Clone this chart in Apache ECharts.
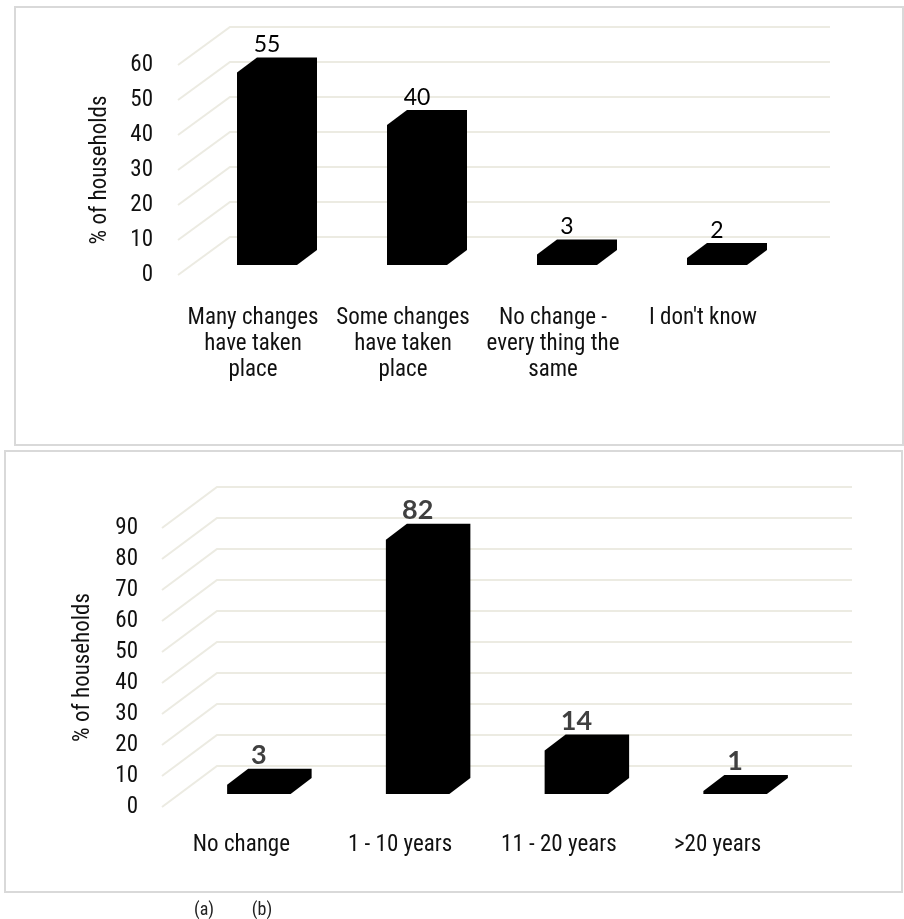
<!DOCTYPE html>
<html>
<head>
<meta charset="utf-8">
<script src="https://cdn.jsdelivr.net/npm/echarts@6/dist/echarts.min.js"></script>
<style>
  html, body { margin: 0; padding: 0; background: #ffffff; }
  #chart { width: 904px; height: 919px; }
</style>
</head>
<body>
<div id="chart"></div>
<script>
// (a) perceived change in the area
const changeCategories = [
  'Many changes\nhave taken\nplace',
  'Some changes\nhave taken\nplace',
  'No change -\nevery thing the\nsame',
  "I don't know"
];
const changeValues = [55, 40, 3, 2];
const changeTicks = [0, 10, 20, 30, 40, 50, 60];

// (b) period over which the change happened
const periodCategories = ['No change', '1 - 10 years', '11 - 20 years', '>20 years'];
const periodValues = [3, 82, 14, 1];
const periodTicks = [0, 10, 20, 30, 40, 50, 60, 70, 80, 90];

const NARROW = '"Liberation Sans Narrow", "Arial Narrow", "Roboto Condensed", "Liberation Sans", Arial, sans-serif';
const GRID_COLOR = '#ecebe2';

// Side wall + back wall gridline for one tick value, projected in oblique 3D
function wallItem(depth) {
  return function (params, api) {
    const cs = params.coordSys;
    const y = api.coord([0, api.value(1)])[1];
    const x0 = cs.x, x1 = cs.x + cs.width;
    return {
      type: 'polyline',
      silent: true,
      shape: { points: [[x0, y], [x0 + depth[0], y - depth[1]], [x1 + depth[0], y - depth[1]]] },
      style: { stroke: GRID_COLOR, lineWidth: 2, fill: null }
    };
  };
}

// Solid 3D column (front, top and right faces as one outline) plus its value label
function barItem(cfg) {
  return function (params, api) {
    const idx = api.value(0);
    const v = api.value(1);
    const top = api.coord([idx, v]);
    const base = api.coord([idx, 0]);
    const band = api.size([1, 0])[0];
    const w = band * cfg.widthRatio;
    const cx = base[0] + cfg.front[0];
    const L = cx - w / 2, R = cx + w / 2;
    const B = base[1] - cfg.front[1];
    const T = top[1] - cfg.front[1];
    const dx = cfg.depth[0], dy = cfg.depth[1];
    return {
      type: 'group',
      children: [
        {
          type: 'polygon',
          shape: { points: [[L, B], [L, T], [L + dx, T - dy], [R + dx, T - dy], [R + dx, B - dy], [R, B]] },
          style: { fill: '#000000' }
        },
        {
          type: 'text',
          style: {
            text: String(v),
            x: cx,
            y: T - dy - cfg.labelGap,
            align: 'center',
            verticalAlign: 'bottom',
            font: cfg.labelFont,
            fill: cfg.labelColor
          }
        }
      ]
    };
  };
}

const chart = echarts.init(document.getElementById('chart'), null, { renderer: 'canvas' });

chart.setOption({
  backgroundColor: '#ffffff',
  animation: false,
  graphic: [
    { type: 'rect', shape: { x: 15, y: 7, width: 888, height: 438 }, style: { fill: null, stroke: '#d9d9d9', lineWidth: 2 }, z: -1 },
    { type: 'rect', shape: { x: 5, y: 451, width: 897, height: 441 }, style: { fill: null, stroke: '#d9d9d9', lineWidth: 2 }, z: -1 },
    { type: 'text', style: { text: '(a)', x: 204, y: 910, align: 'center', verticalAlign: 'middle', font: '18px ' + NARROW, fill: '#222' } },
    { type: 'text', style: { text: '(b)', x: 262, y: 910, align: 'center', verticalAlign: 'middle', font: '18px ' + NARROW, fill: '#222' } }
  ],
  grid: [
    { left: 178, top: 65, width: 600, height: 210 },
    { left: 162, top: 528, width: 635, height: 279 }
  ],
  xAxis: [
    {
      type: 'category', gridIndex: 0, data: changeCategories,
      axisLine: { show: false }, axisTick: { show: false }, splitLine: { show: false },
      axisLabel: { interval: 0, margin: 30, fontFamily: NARROW, fontSize: 23, lineHeight: 26, color: '#111', align: 'center' }
    },
    {
      type: 'category', gridIndex: 1, data: periodCategories,
      axisLine: { show: false }, axisTick: { show: false }, splitLine: { show: false },
      axisLabel: { interval: 0, margin: 25, fontFamily: NARROW, fontSize: 23, lineHeight: 26, color: '#111' }
    }
  ],
  yAxis: [
    {
      type: 'value', gridIndex: 0, min: 0, max: 60, interval: 10,
      axisLine: { show: false }, axisTick: { show: false }, splitLine: { show: false },
      axisLabel: { margin: 25, fontFamily: NARROW, fontSize: 23, color: '#111' },
      name: '% of households', nameLocation: 'middle', nameGap: 66, nameRotate: 90,
      nameTextStyle: { fontFamily: NARROW, fontSize: 23, color: '#111' }
    },
    {
      type: 'value', gridIndex: 1, min: 0, max: 90, interval: 10,
      axisLine: { show: false }, axisTick: { show: false }, splitLine: { show: false },
      axisLabel: { margin: 24, fontFamily: NARROW, fontSize: 23, color: '#111' },
      name: '% of households', nameLocation: 'middle', nameGap: 67, nameRotate: 90,
      nameTextStyle: { fontFamily: NARROW, fontSize: 23, color: '#111' }
    }
  ],
  series: [
    {
      type: 'custom', xAxisIndex: 0, yAxisIndex: 0, z: 1, silent: true,
      renderItem: wallItem([52, 38]),
      data: changeTicks.map(v => [0, v])
    },
    {
      type: 'custom', xAxisIndex: 0, yAxisIndex: 0, z: 2,
      renderItem: barItem({
        widthRatio: 0.4, front: [14, 10], depth: [20, 15],
        labelGap: 1, labelFont: '23px Lato, "Open Sans", sans-serif', labelColor: '#000'
      }),
      data: changeValues.map((v, i) => [i, v])
    },
    {
      type: 'custom', xAxisIndex: 1, yAxisIndex: 1, z: 1, silent: true,
      renderItem: wallItem([55, 41]),
      data: periodTicks.map(v => [0, v])
    },
    {
      type: 'custom', xAxisIndex: 1, yAxisIndex: 1, z: 2,
      renderItem: barItem({
        widthRatio: 0.4, front: [17.5, 13], depth: [21, 16],
        labelGap: 0, labelFont: 'bold 27px Lato, "Open Sans", sans-serif', labelColor: '#404040'
      }),
      data: periodValues.map((v, i) => [i, v])
    }
  ]
});
</script>
</body>
</html>
